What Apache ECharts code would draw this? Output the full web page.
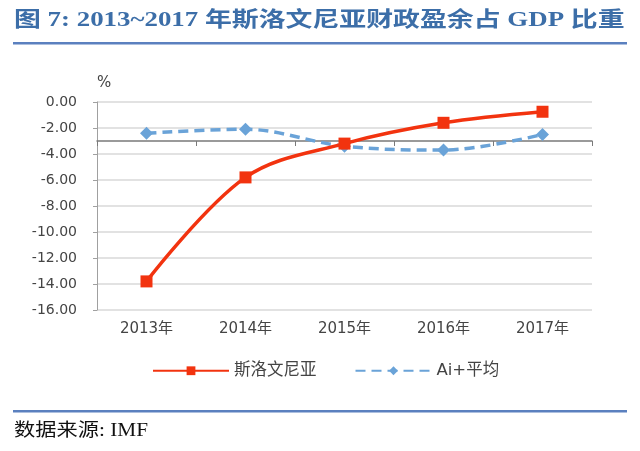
<!DOCTYPE html>
<html>
<head>
<meta charset="utf-8">
<script src="https://cdn.jsdelivr.net/npm/echarts@6/dist/echarts.min.js"></script>
<style>
  html, body { margin: 0; padding: 0; background: #fff; }
  #main { width: 640px; height: 451px; }
</style>
</head>
<body>
<div id="main"></div>
<script>
let years = ['2013年', '2014年', '2015年', '2016年', '2017年'];
let slovenia = [-13.8, -5.8, -3.2, -1.6, -0.75];
let aiAvg = [-2.4, -2.1, -3.4, -3.7, -2.5];
let crossAt = -3;

let myChart = echarts.init(document.getElementById('main'));
let serifFont = '"Liberation Serif", "Noto Sans CJK SC", serif';
let sansFont = '"DejaVu Sans", "Noto Sans CJK SC", sans-serif';

let option = {
  animation: false,
  graphic: [
    {
      // title, stretched horizontally like the source image
      type: 'text', x: 14, y: 21, scaleX: 1.28,
      style: {
        text: '图 7: 2013~2017 年斯洛文尼亚财政盈余占 GDP 比重',
        font: 'bold 21px ' + serifFont,
        fill: '#3c6ea8',
        verticalAlign: 'middle'
      }
    },
    { type: 'rect', shape: { x: 13, y: 42, width: 614, height: 2.5 }, style: { fill: '#5b80bf' } },
    { type: 'rect', shape: { x: 13, y: 410, width: 614, height: 2.5 }, style: { fill: '#5b80bf' } },
    {
      type: 'text', x: 14, y: 431, scaleX: 1.18,
      style: {
        text: '数据来源: IMF',
        font: '18px ' + serifFont,
        fill: '#111',
        verticalAlign: 'middle'
      }
    }
  ],
  legend: {
    bottom: 67,
    left: 147,
    itemWidth: 76,
    itemHeight: 11,
    itemGap: 38,
    textStyle: { fontFamily: sansFont, fontSize: 16.5, color: '#444' },
    data: ['斯洛文尼亚', 'Ai+平均']
  },
  grid: { left: 97, right: 48, top: 102, bottom: 141 },
  xAxis: [
    {
      type: 'category',
      data: years,
      position: 'bottom',
      axisLine: { show: false },
      axisTick: { show: false },
      axisLabel: { margin: 12, fontSize: 15, fontFamily: sansFont, color: '#444' }
    },
    {
      // the crossing line at -3 with its ticks
      type: 'category',
      data: years,
      position: 'top',
      offset: (crossAt / 16) * 208,
      axisLine: { show: true, lineStyle: { color: '#7a7a7a', width: 1.5 } },
      axisTick: { show: true, inside: true, length: 5, lineStyle: { color: '#7a7a7a' } },
      axisLabel: { show: false }
    }
  ],
  yAxis: {
    type: 'value',
    min: -16,
    max: 0,
    interval: 2,
    name: '%',
    nameGap: 11,
    nameTextStyle: { fontFamily: sansFont, fontSize: 15, color: '#444', align: 'left' },
    axisLine: { show: true, lineStyle: { color: '#a0a0a0' } },
    axisTick: { show: true, length: 4, lineStyle: { color: '#a0a0a0' } },
    axisLabel: {
      margin: 20,
      fontSize: 14,
      fontFamily: sansFont,
      color: '#444',
      formatter: function (v) { return v.toFixed(2); }
    },
    splitLine: { lineStyle: { color: '#d9d9d9', width: 1.5 } }
  },
  series: [
    {
      name: '斯洛文尼亚',
      type: 'line',
      data: slovenia,
      smooth: 0.35,
      symbol: 'rect',
      symbolSize: 12,
      lineStyle: { color: '#f2330f', width: 3.5 },
      itemStyle: { color: '#f2330f' },
      z: 3
    },
    {
      name: 'Ai+平均',
      type: 'line',
      data: aiAvg,
      smooth: 0.35,
      symbol: 'diamond',
      symbolSize: 13,
      lineStyle: { color: '#6aa3d8', width: 3.5, type: [10, 6] },
      itemStyle: { color: '#6aa3d8' },
      z: 2
    }
  ]
};

myChart.setOption(option);
</script>
</body>
</html>
